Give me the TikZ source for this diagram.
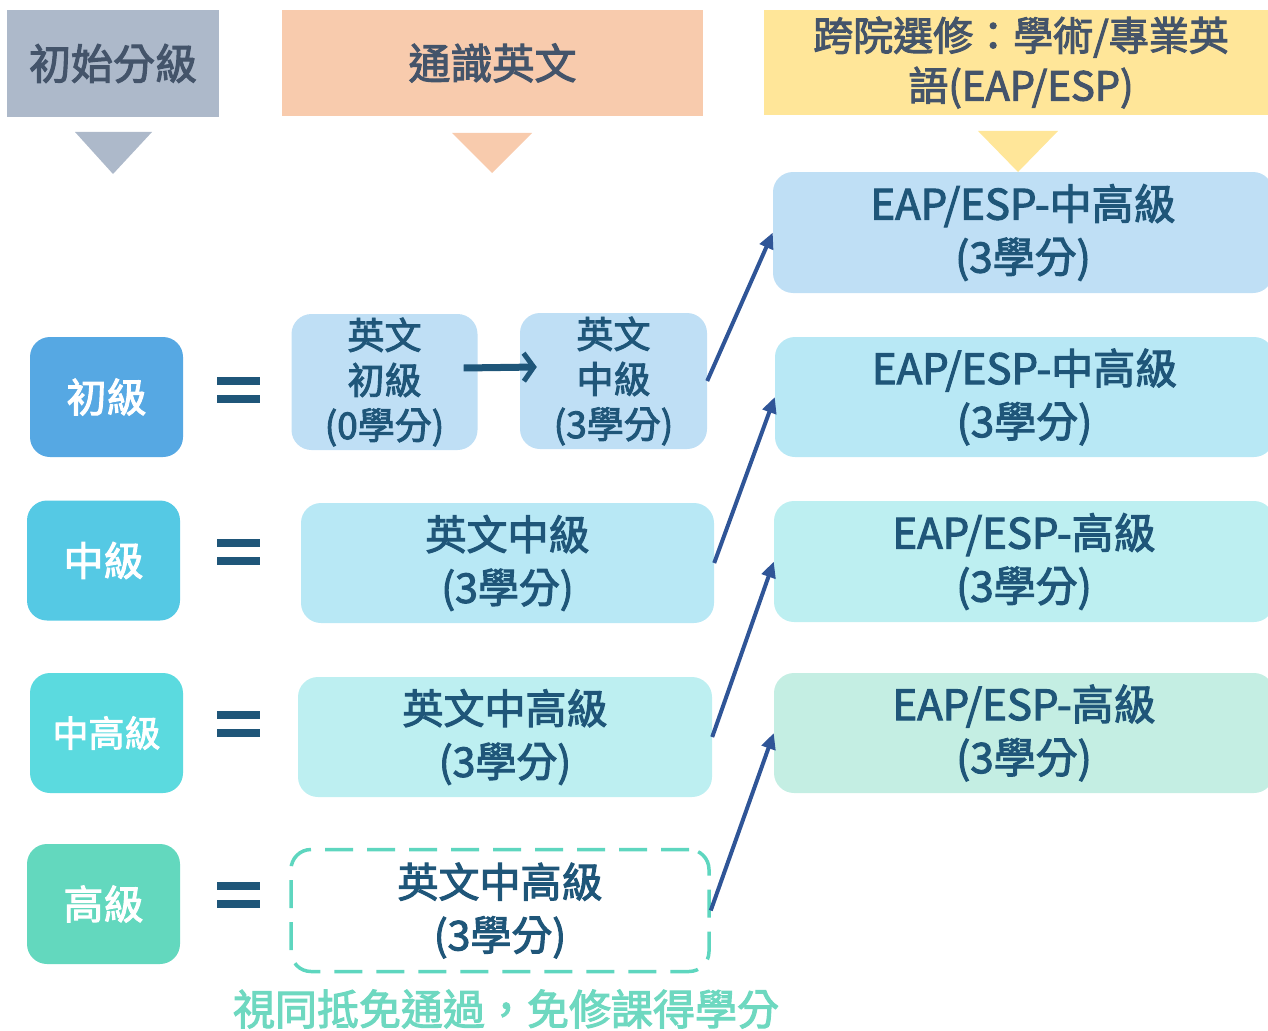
\documentclass[tikz,border=0pt]{standalone}
\usepackage{fontspec}
\setmainfont{Noto Sans CJK TC}[FakeBold=2.5]
\usetikzlibrary{arrows.meta}
\definecolor{hdrA}{HTML}{ADB9CA}
\definecolor{hdrB}{HTML}{F8CBAD}
\definecolor{hdrC}{HTML}{FFE699}
\definecolor{hdrtxt}{HTML}{44546A}
\definecolor{lvA}{HTML}{56A8E3}
\definecolor{lvB}{HTML}{55C9E4}
\definecolor{lvC}{HTML}{5BDADF}
\definecolor{lvD}{HTML}{63D8BE}
\definecolor{bxA}{HTML}{BFDFF5}
\definecolor{bxB}{HTML}{B8E8F5}
\definecolor{bxC}{HTML}{BDEFF1}
\definecolor{bxD}{HTML}{C4EEE3}
\definecolor{txtdark}{HTML}{1F5679}
\definecolor{arrowblue}{HTML}{2F5597}
\definecolor{mint}{HTML}{5ED6BF}
\definecolor{minttxt}{HTML}{6ED8C0}
\begin{document}
\begin{tikzpicture}[x=1pt,y=-1pt,
  hdr/.style={inner sep=0pt, align=center, text=hdrtxt},
  lvl/.style={rounded corners=20pt, inner sep=0pt, align=center, text=white,
    minimum width=153pt, minimum height=120pt, font=\fontsize{40}{48}\selectfont},
  crs/.style={rounded corners=20pt, inner sep=0pt, align=center, text=txtdark,
    font=\fontsize{41}{53}\selectfont},
  eap/.style={crs, font=\fontsize{42}{53}\selectfont},
  small/.style={crs, minimum width=186pt, minimum height=136pt, fill=bxA,
    font=\fontsize{37}{45}\selectfont},
  eqbar/.style={fill=txtdark},
  link/.style={draw=arrowblue, line width=4pt, -{Triangle[length=16pt,width=14pt]}}
  ]
\useasboundingbox (0,0) rectangle (1268,1030);

% headers
\node[hdr, fill=hdrA, minimum width=212pt, minimum height=107pt,
  font=\fontsize{42}{50}\selectfont] (h1) at (113,63.5) {初始分級};
\node[hdr, fill=hdrB, minimum width=421pt, minimum height=106pt,
  font=\fontsize{42}{50}\selectfont] (h2) at (492.5,63) {通識英文};
\node[hdr, fill=hdrC, minimum width=514pt, minimum height=105pt,
  font=\fontsize{40}{50}\selectfont] (h3) at (1021,62.5) {跨院選修：學術/專業英\\語(EAP/ESP)};

% triangles
\fill[hdrA] (75,132) -- (152,132) -- (113,174) -- cycle;
\fill[hdrB] (452,133) -- (532,133) -- (492,173) -- cycle;
\fill[hdrC] (978,131) -- (1058,131) -- (1018,172) -- cycle;

% level boxes
\node[lvl, fill=lvA] (l1) at (106.5,397) {初級};
\node[lvl, fill=lvB] (l2) at (103.5,560.5) {中級};
\node[lvl, fill=lvC, font=\fontsize{36}{44}\selectfont] (l3) at (106.5,733) {中高級};
\node[lvl, fill=lvD] (l4) at (103.5,904) {高級};

% equals signs
\foreach \yc in {390,552,724,895} {
  \fill[eqbar] (217,\yc-13) rectangle (260,\yc-5);
  \fill[eqbar] (217,\yc+5) rectangle (260,\yc+13);
}

% middle course boxes
\node[small] (m1) at (384.5,382) {英文\\初級\\(0學分)};
\node[small, minimum width=187pt] (m2) at (613.5,381) {英文\\中級\\(3學分)};
\node[crs, fill=bxB, minimum width=413pt, minimum height=120pt] (m3) at (507.5,563) {英文中級\\(3學分)};
\node[crs, fill=bxC, minimum width=414pt, minimum height=120pt] (m4) at (505,737) {英文中高級\\(3學分)};
\node[crs, draw=mint, line width=3.5pt, dash pattern=on 28pt off 14pt,
  minimum width=418pt, minimum height=122pt] (m5) at (500,910.5) {英文中高級\\(3學分)};
\node[inner sep=0pt, text=minttxt, font=\fontsize{42}{50}\selectfont] (note) at (506,1009) {視同抵免通過，免修課得學分};

% right EAP/ESP boxes
\node[eap, fill=bxA, minimum width=500pt, minimum height=121pt] (r1) at (1023,232.5) {EAP/ESP-中高級\\(3學分)};
\node[eap, fill=bxB, minimum width=499pt, minimum height=120pt] (r2) at (1024.5,397) {EAP/ESP-中高級\\(3學分)};
\node[eap, fill=bxC, minimum width=500pt, minimum height=121pt] (r3) at (1024,561.5) {EAP/ESP-高級\\(3學分)};
\node[eap, fill=bxD, minimum width=500pt, minimum height=120pt] (r4) at (1024,733) {EAP/ESP-高級\\(3學分)};

% arrows
\draw[draw=txtdark, line width=7pt, -{Straight Barb[length=10pt,width=28pt,line width=5pt]}]
  ([xshift=-14pt,yshift=14pt]m1.east) -- ([xshift=17pt,yshift=14pt]m2.west);
\draw[link] (m2.east) -- (r1.west);
\draw[link] (m3.east) -- (r2.west);
\draw[link] (m4.east) -- (r3.west);
\draw[link] (m5.east) -- (r4.west);
\end{tikzpicture}
\end{document}
